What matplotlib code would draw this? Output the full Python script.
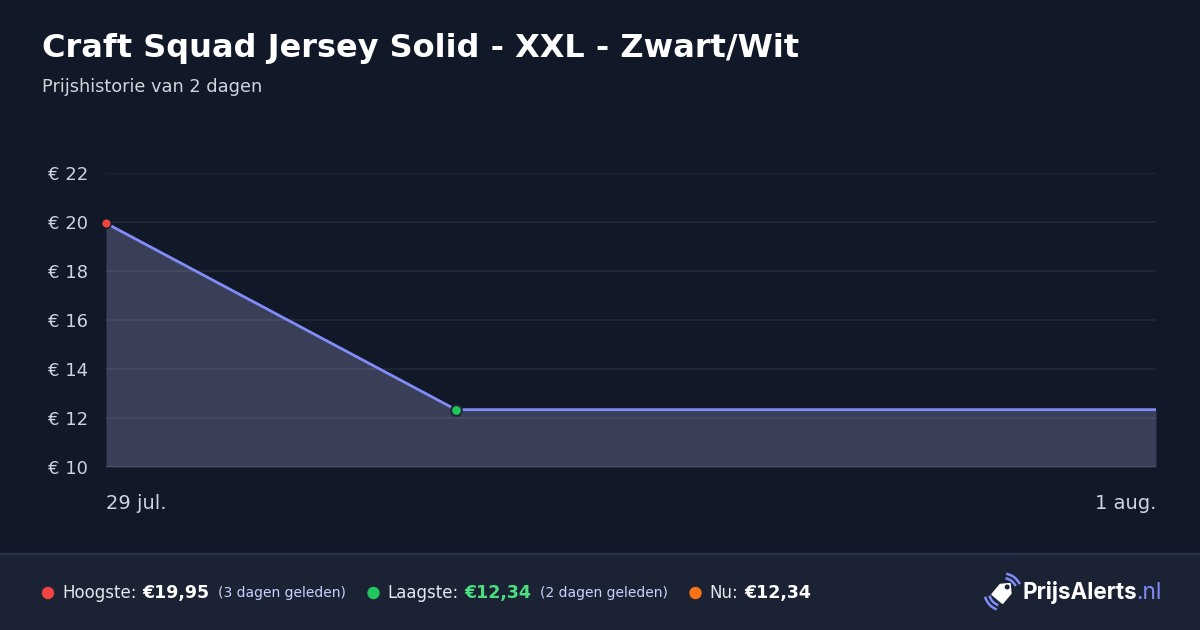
import numpy as np
import matplotlib
matplotlib.use("Agg")
from matplotlib import pyplot as plt
from matplotlib.patches import Rectangle, Polygon, Arc, Circle
from matplotlib.transforms import IdentityTransform

# data
dates = ["29 jul.", "30 jul.", "31 jul.", "1 aug."]
day_index = [0, 1, 3]
prices = [19.95, 12.34, 12.34]
y_ticks = [10, 12, 14, 16, 18, 20, 22]
title = "Craft Squad Jersey Solid - XXL - Zwart/Wit"
subtitle = "Prijshistorie van 2 dagen"
stats = [
    ("Hoogste:", "€19,95", "(3 dagen geleden)", "#ef4444", "#ffffff"),
    ("Laagste:", "€12,34", "(2 dagen geleden)", "#22c55e", "#4ade80"),
    ("Nu:", "€12,34", "", "#f97316", "#ffffff"),
]

BG = "#111827"
FOOT = "#1a2233"
LINE = "#818cf8"
TICK = "#cbd5e1"
H = 630

plt.rcParams['font.family'] = ['DejaVu Sans']
fig = plt.figure(figsize=(12, 6.3), dpi=100)
fig.patch.set_facecolor(BG)

ax = fig.add_axes([106/1200, 1-467/630, 1050/1200, 294/630])
ax.set_facecolor(BG)
ax.fill_between(day_index, prices, 10, color="#3a3f58", zorder=1, linewidth=0)
ax.plot(day_index, prices, color=LINE, linewidth=2, zorder=3)
ax.scatter([day_index[0]], [prices[0]], s=48, color="#ef4444", edgecolor=BG, linewidth=1.0,
           zorder=4, clip_on=False)
ax.scatter([day_index[1]], [prices[1]], s=60, color="#22c55e", edgecolor="#1f2937", linewidth=1.5,
           zorder=4, clip_on=False)
ax.set_xlim(0, 3)
ax.set_ylim(10, 22)
ax.set_yticks(y_ticks)
ax.set_yticklabels([f"€ {v}" for v in y_ticks])
ax.set_xticks([])
ax.tick_params(axis='y', length=0, colors=TICK, labelsize=13, pad=13)
for s in ax.spines.values():
    s.set_visible(False)
for v in y_ticks[1:]:
    ax.axhline(v, color="white", alpha=0.06, linewidth=1.5, zorder=2)
ax.axhline(10, color="#4b5563", linewidth=1.5, zorder=2)
ax.text(0, -0.125, dates[0], transform=ax.get_xaxis_transform(), ha='left', va='center',
        color=TICK, fontsize=14)
ax.text(3, -0.125, dates[-1], transform=ax.get_xaxis_transform(), ha='right', va='center',
        color=TICK, fontsize=14)

fig.text(42/1200, 1-48/630, title, color="white", fontsize=23, fontweight='bold', va='center')
fig.text(42/1200, 1-87/630, subtitle, color="#d1d5db", fontsize=12.8, va='center')

# footer
fig.patches.append(Rectangle((0, 0), 1, 76/630, transform=fig.transFigure, color=FOOT, zorder=0))
fig.patches.append(Rectangle((0, 76/630), 1, 1.2/630, transform=fig.transFigure, color="#27304d", zorder=0))

fig.canvas.draw()
renderer = fig.canvas.get_renderer()
yrow = 593

def put(x, txt, **kw):
    t = fig.text(x/1200, 1 - yrow/630, txt, va='center', **kw)
    return t.get_window_extent(renderer).x1

x = 42
for label, val, ago, dot, vcol in stats:
    fig.patches.append(Circle((x + 6, H - yrow), 5.5, transform=IdentityTransform(), color=dot))
    x = put(x + 20, label, color="#e5e7eb", fontsize=12)
    x = put(x + 6, val, color=vcol, fontsize=12.5, fontweight='bold')
    if ago:
        x = put(x + 8, ago, color="#c7d2fe", fontsize=10)
    x += 22

# logo
xe = put(1022, "PrijsAlerts", color="white", fontsize=16.2, fontweight='bold', family=['Inter', 'DejaVu Sans'])
put(xe, ".nl", color=LINE, fontsize=16.2, family=['Inter', 'DejaVu Sans'])
cx, cy = 1003, H - 592
ang = np.deg2rad(-40)
pts = np.array([(-7, -9), (7, -9), (7, 4), (0, 11), (-7, 4)], dtype=float)
rot = np.array([[np.cos(ang), -np.sin(ang)], [np.sin(ang), np.cos(ang)]])
pts = pts @ rot.T + (cx, cy)
fig.patches.append(Polygon(pts, closed=True, transform=IdentityTransform(), color="white"))
hole = np.array([0, 6.5]) @ rot.T + (cx, cy)
fig.patches.append(Circle(tuple(hole), 1.8, transform=IdentityTransform(), color=FOOT))
for r in (14, 18.5):
    fig.patches.append(Arc((cx, cy), r * 2, r * 2, theta1=25, theta2=80, transform=IdentityTransform(),
                           color=LINE, linewidth=1.8))
    fig.patches.append(Arc((cx, cy), r * 2, r * 2, theta1=195, theta2=250, transform=IdentityTransform(),
                           color=LINE, linewidth=1.8))

fig.savefig("out.png", dpi=100, facecolor=BG)
